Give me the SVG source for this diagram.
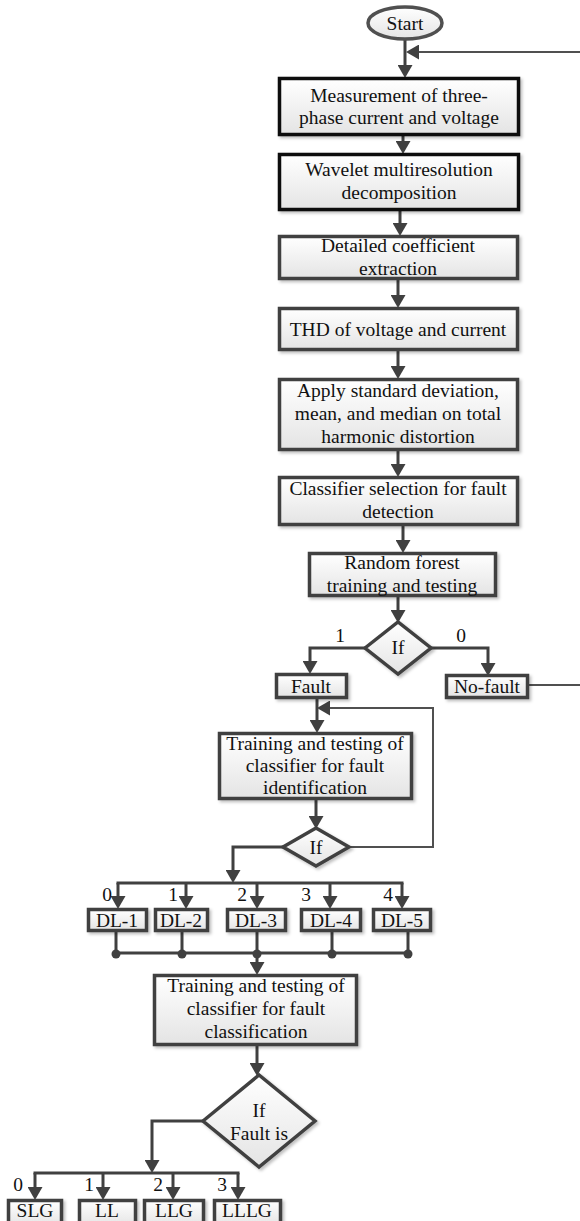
<svg xmlns="http://www.w3.org/2000/svg" width="580" height="1221" viewBox="0 0 580 1221">
<defs>
<linearGradient id="g" x1="0" y1="0" x2="0" y2="1">
<stop offset="0" stop-color="#ffffff"/>
<stop offset="1" stop-color="#e4e4e4"/>
</linearGradient>
<filter id="sh" x="-10%" y="-10%" width="130%" height="140%">
<feDropShadow dx="2" dy="2" stdDeviation="1.5" flood-color="#000" flood-opacity="0.25"/>
</filter>
<marker id="ah" markerUnits="userSpaceOnUse" markerWidth="13" markerHeight="15" refX="6" refY="7.5" orient="auto">
<path d="M0,0 L13,7.5 L0,15 z" fill="#404040"/>
</marker>
</defs>
<style>
.b{fill:url(#g);stroke:#404040;stroke-width:3.5;filter:url(#sh)}
.k{stroke:#111}
.t{font-family:"Liberation Serif","Times New Roman",serif;font-size:19.5px;fill:#111;text-anchor:middle}
.c{fill:none;stroke:#404040;stroke-width:3}
.a{marker-end:url(#ah)}
.th{fill:none;stroke:#505050;stroke-width:2}
.dot{fill:#404040}
</style>
<rect width="580" height="1221" fill="#ffffff"/>

<g id="connectors">
<line class="c a" x1="405" y1="40" x2="405" y2="71"/>
<line class="th a" x1="580" y1="52" x2="413" y2="52"/>
<line class="c a" x1="403" y1="136" x2="403" y2="147"/>
<line class="c a" x1="400" y1="211" x2="400" y2="229"/>
<line class="c a" x1="398" y1="280" x2="398" y2="301"/>
<line class="c a" x1="398" y1="351" x2="398" y2="372"/>
<line class="c a" x1="398" y1="451" x2="398" y2="470"/>
<line class="c a" x1="403" y1="526" x2="403" y2="546"/>
<line class="c a" x1="398" y1="597" x2="398" y2="616"/>
<path class="c a" d="M365,648 H310 V667"/>
<path class="c a" d="M431,648 H488 V669"/>
<line class="th" x1="529" y1="685" x2="580" y2="685"/>
<line class="c a" x1="317" y1="699" x2="317" y2="726"/>
<path class="th a" d="M349,847 H433 V708 H324"/>
<line class="c a" x1="316" y1="800" x2="316" y2="822"/>
<path class="c a" d="M283,847 H233 V876"/>
<line class="c" x1="116.5" y1="883" x2="403.5" y2="883"/>
<line class="c a" x1="118" y1="883" x2="118" y2="902"/>
<line class="c a" x1="186" y1="883" x2="186" y2="902"/>
<line class="c a" x1="257" y1="883" x2="257" y2="902"/>
<line class="c a" x1="330" y1="883" x2="330" y2="902"/>
<line class="c a" x1="402" y1="883" x2="402" y2="902"/>
<line class="c" x1="116" y1="932" x2="116" y2="953"/>
<line class="c" x1="182" y1="932" x2="182" y2="953"/>
<line class="c" x1="257" y1="932" x2="257" y2="953"/>
<line class="c" x1="332" y1="932" x2="332" y2="953"/>
<line class="c" x1="408" y1="932" x2="408" y2="953"/>
<line class="c" x1="116" y1="953" x2="408" y2="953"/>
<circle class="dot" cx="116" cy="954" r="4.5"/>
<circle class="dot" cx="182" cy="954" r="4.5"/>
<circle class="dot" cx="257" cy="954" r="4.5"/>
<circle class="dot" cx="332" cy="954" r="4.5"/>
<circle class="dot" cx="408" cy="954" r="4.5"/>
<line class="c a" x1="257" y1="953" x2="257" y2="968"/>
<line class="c a" x1="257" y1="1046" x2="257" y2="1069"/>
<path class="c a" d="M203,1121 H152 V1166"/>
<line class="c" x1="33.5" y1="1173" x2="239.5" y2="1173"/>
<line class="c a" x1="35" y1="1173" x2="35" y2="1193"/>
<line class="c a" x1="103" y1="1173" x2="103" y2="1193"/>
<line class="c a" x1="173" y1="1173" x2="173" y2="1193"/>
<line class="c a" x1="238" y1="1173" x2="238" y2="1193"/>
<text class="t" x="340" y="642">1</text>
<text class="t" x="461" y="642">0</text>
<text class="t" x="107" y="901">0</text>
<text class="t" x="173" y="901">1</text>
<text class="t" x="242" y="901">2</text>
<text class="t" x="306" y="901">3</text>
<text class="t" x="388" y="901">4</text>
<text class="t" x="18" y="1191">0</text>
<text class="t" x="89" y="1191">1</text>
<text class="t" x="158" y="1191">2</text>
<text class="t" x="222" y="1191">3</text>
</g>

<g id="start">
<ellipse cx="405" cy="23" rx="37" ry="16" fill="url(#g)" stroke="#505050" stroke-width="3.5"/>
<text class="t" x="405" y="30">Start</text>
</g>
<g id="n1">
<rect class="b k" x="279.5" y="78.5" width="239" height="56"/>
<text class="t" x="399" y="102">Measurement of three-</text>
<text class="t" x="399" y="124">phase current and voltage</text>
</g>
<g id="n2">
<rect class="b k" x="279.5" y="154.5" width="239" height="55"/>
<text class="t" x="399" y="176">Wavelet multiresolution</text>
<text class="t" x="399" y="199">decomposition</text>
</g>
<g id="n3">
<rect class="b" x="279.5" y="236.5" width="238" height="42"/>
<text class="t" x="398" y="252">Detailed coefficient</text>
<text class="t" x="398" y="275">extraction</text>
</g>
<g id="n4">
<rect class="b" x="279.5" y="308.5" width="238" height="41"/>
<text class="t" x="398" y="336">THD of voltage and current</text>
</g>
<g id="n5">
<rect class="b" x="279.5" y="379.5" width="238" height="70"/>
<text class="t" x="398" y="397">Apply standard deviation,</text>
<text class="t" x="398" y="420">mean, and median on total</text>
<text class="t" x="398" y="443">harmonic distortion</text>
</g>
<g id="n6">
<rect class="b" x="279.5" y="477.5" width="238" height="47"/>
<text class="t" x="398" y="495">Classifier selection for fault</text>
<text class="t" x="398" y="518">detection</text>
</g>
<g id="n7">
<rect class="b" x="309.5" y="553.5" width="186" height="42"/>
<text class="t" x="402" y="569">Random forest</text>
<text class="t" x="402" y="592">training and testing</text>
</g>
<g id="d1">
<polygon points="365,648 398,622 431,648 398,674" fill="url(#g)" stroke="#404040" stroke-width="3.5" filter="url(#sh)"/>
<text class="t" x="398" y="654">If</text>
</g>
<g id="fault">
<rect class="b" x="276.5" y="674.5" width="70" height="23"/>
<text class="t" x="311" y="693">Fault</text>
</g>
<g id="nofault">
<rect class="b" x="446.5" y="675.5" width="81" height="22"/>
<text class="t" x="487" y="693">No-fault</text>
</g>
<g id="n8">
<rect class="b" x="219.5" y="733.5" width="192" height="65"/>
<text class="t" x="315" y="750">Training and testing of</text>
<text class="t" x="315" y="772">classifier for fault</text>
<text class="t" x="315" y="794">identification</text>
</g>
<g id="d2">
<polygon points="283,847 316,828 349,847 316,866" fill="url(#g)" stroke="#404040" stroke-width="3.5" filter="url(#sh)"/>
<text class="t" x="316" y="854">If</text>
</g>
<g id="dl1">
<rect class="b" x="88.5" y="909.5" width="58" height="21"/>
<text class="t" x="117" y="927">DL-1</text>
</g>
<g id="dl2">
<rect class="b" x="155.5" y="909.5" width="52" height="21"/>
<text class="t" x="181" y="927">DL-2</text>
</g>
<g id="dl3">
<rect class="b" x="227.5" y="909.5" width="58" height="21"/>
<text class="t" x="256" y="927">DL-3</text>
</g>
<g id="dl4">
<rect class="b" x="301.5" y="909.5" width="59" height="21"/>
<text class="t" x="331" y="927">DL-4</text>
</g>
<g id="dl5">
<rect class="b" x="373.5" y="909.5" width="57" height="21"/>
<text class="t" x="402" y="927">DL-5</text>
</g>
<g id="n9">
<rect class="b" x="154.5" y="975.5" width="202" height="69"/>
<text class="t" x="256" y="992">Training and testing of</text>
<text class="t" x="256" y="1015">classifier for fault</text>
<text class="t" x="256" y="1038">classification</text>
</g>
<g id="d3">
<polygon points="203,1121 259,1075 315,1121 259,1167" fill="url(#g)" stroke="#404040" stroke-width="3.5" filter="url(#sh)"/>
<text class="t" x="259" y="1117">If</text>
<text class="t" x="259" y="1140">Fault is</text>
</g>
<g id="slg">
<rect class="b" x="8.5" y="1200.5" width="53" height="26"/>
<text class="t" x="35" y="1217">SLG</text>
</g>
<g id="ll">
<rect class="b" x="79.5" y="1200.5" width="56" height="26"/>
<text class="t" x="107" y="1217">LL</text>
</g>
<g id="llg">
<rect class="b" x="144.5" y="1200.5" width="59" height="26"/>
<text class="t" x="174" y="1217">LLG</text>
</g>
<g id="lllg">
<rect class="b" x="214.5" y="1200.5" width="66" height="26"/>
<text class="t" x="247" y="1217">LLLG</text>
</g>
</svg>
